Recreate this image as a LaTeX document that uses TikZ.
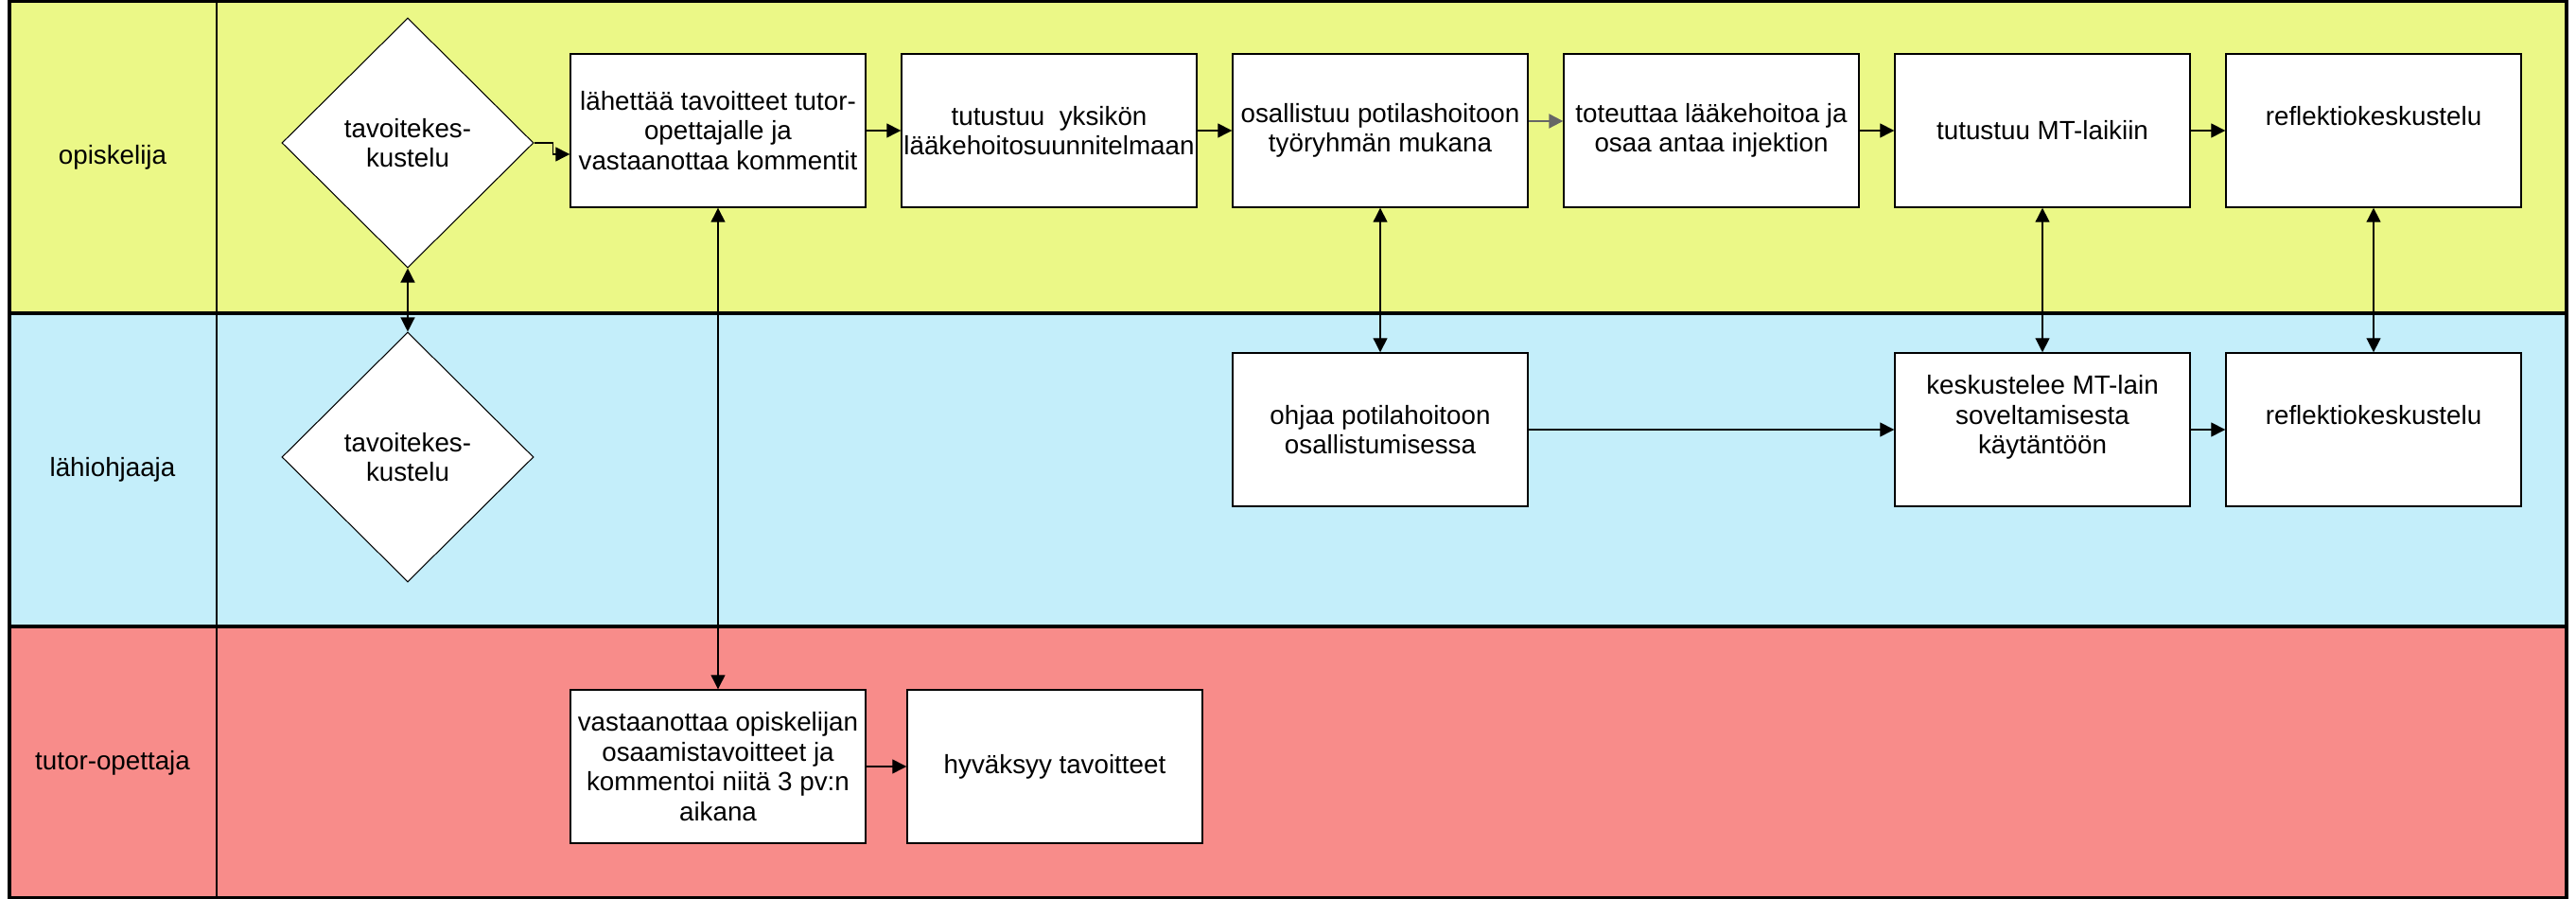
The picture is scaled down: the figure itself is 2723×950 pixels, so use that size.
\documentclass[tikz,border=0pt]{standalone}
\usepackage{fontspec}
\setmainfont{Liberation Sans}
\usetikzlibrary{calc,positioning,shapes.geometric,arrows.meta}

\definecolor{laneyellow}{RGB}{235,248,135}
\definecolor{laneblue}{RGB}{196,238,250}
\definecolor{lanered}{RGB}{248,140,138}

\tikzset{
    task/.style={draw,fill=white,line width=0.4pt,inner sep=0pt,
        minimum width=3.12cm,minimum height=1.62cm,align=center,
        font=\fontsize{7.9}{9}\selectfont},
    talk/.style={draw,fill=white,diamond,line width=0.3pt,inner sep=0pt,
        minimum width=2.66cm,minimum height=2.64cm,align=center,
        font=\fontsize{7.9}{9}\selectfont},
    lanename/.style={font=\fontsize{7.9}{9}\selectfont},
    arr/.style={-{Triangle[length=1.5mm,width=1.5mm]},line width=0.35pt},
    twoway/.style={{Triangle[length=1.5mm,width=1.5mm]}-{Triangle[length=1.5mm,width=1.5mm]},line width=0.35pt}
}

\begin{document}
\begin{tikzpicture}[x=0.1mm,y=-0.1mm]
    \useasboundingbox (0,0) rectangle (2723,950);

    % swimlanes
    \fill[laneyellow] (10,1) rectangle (2713,331);
    \fill[laneblue] (10,331) rectangle (2713,662);
    \fill[lanered] (10,662) rectangle (2713,949);
    \draw[line width=1pt] (10,1) rectangle (2713,949);
    \draw[line width=1.1pt] (10,331) -- (2713,331) (10,662) -- (2713,662);
    \draw[line width=0.7pt] (229,1) -- (229,949);

    \node[lanename] (opisk) at (119,166) {opiskelija};
    \node[lanename] (lahi) at (119,496) {lähiohjaaja};
    \node[lanename] (tutor) at (119,806) {tutor-opettaja};

    % opiskelija
    \node[talk] (dia1) at (431,151) {tavoitekes-\\kustelu};
    \node[task] (box1) at (759,138)
        {lähettää tavoitteet tutor-\\opettajalle ja\\vastaanottaa kommentit};
    \node[task] (box2) at (1109,138)
        {tutustuu\ \ yksikön\\lääkehoitosuunnitelmaan};
    \node[task] (box3) at (1459,138)
        {osallistuu potilashoitoon\\työryhmän mukana};
    \node[task] (box4) at (1809,138)
        {toteuttaa lääkehoitoa ja\\osaa antaa injektion};
    \node[task] (box5) at (2159,138) {tutustuu MT-laikiin};
    \node[task] (box6) at (2509,138) {reflektiokeskustelu\\\mbox{}};

    % lähiohjaaja
    \node[talk] (dia2) at (431,483) {tavoitekes-\\kustelu};
    \node[task] (ohj1) at (1459,454)
        {ohjaa potilahoitoon\\osallistumisessa};
    \node[task] (ohj2) at (2159,454)
        {keskustelee MT-lain\\soveltamisesta\\käytäntöön\\\mbox{}};
    \node[task] (ohj3) at (2509,454) {reflektiokeskustelu\\\mbox{}};

    % tutor-opettaja
    \node[task] (tut1) at (759,810)
        {vastaanottaa opiskelijan\\osaamistavoitteet ja\\kommentoi niitä 3 pv:n\\aikana};
    \node[task] (tut2) at (1115,810) {hyväksyy tavoitteet};

    % flow
    \draw[arr] (dia1.east) -- ++(20,0) |- ([yshift=-2.5mm]box1.west);
    \draw[arr] (box1) -- (box2);
    \draw[arr] (box2) -- (box3);
    \draw[arr,black!60,line width=0.6pt] ([yshift=1mm]box3.east) -- ([yshift=1mm]box4.west);
    \draw[arr] (box4) -- (box5);
    \draw[arr] (box5) -- (box6);
    \draw[arr] (ohj1) -- (ohj2);
    \draw[arr] (ohj2) -- (ohj3);
    \draw[arr] (tut1) -- (tut2);

    \draw[twoway] (dia1.south) -- (dia2.north);
    \draw[twoway] (box1.south) -- (tut1.north);
    \draw[twoway] (box3.south) -- (ohj1.north);
    \draw[twoway] (box5.south) -- (ohj2.north);
    \draw[twoway] (box6.south) -- (ohj3.north);
\end{tikzpicture}
\end{document}
